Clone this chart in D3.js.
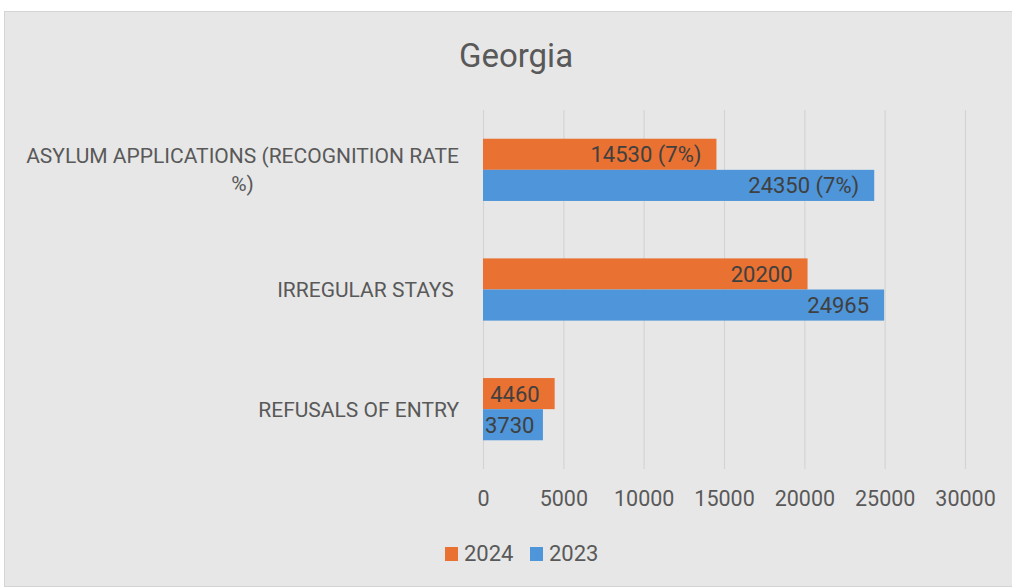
<!DOCTYPE html>
<html>
<head>
<meta charset="utf-8">
<script src="https://cdn.jsdelivr.net/npm/d3@7"></script>
<style>
  html, body { margin: 0; padding: 0; background: #ffffff; }
  svg { display: block; }
  text { font-family: Roboto, "Liberation Sans", sans-serif; fill: #595959; white-space: pre; }
</style>
</head>
<body>
<svg id="chart" width="1012" height="588"></svg>
<script>
// Georgia — migration indicators, 2024 vs 2023
const categories = [
  ["ASYLUM APPLICATIONS (RECOGNITION RATE", "%)"],
  ["IRREGULAR STAYS "],
  ["REFUSALS OF ENTRY"]
];
const seriesNames = ["2024", "2023"];
const values2024 = [14530, 20200, 4460];
const values2023 = [24350, 24965, 3730];
const labels2024 = ["14530 (7%)", "20200", "4460"];
const labels2023 = ["24350 (7%)", "24965", "3730"];
const xTicks = [0, 5000, 10000, 15000, 20000, 25000, 30000];

const colors = { "2024": "#E97132", "2023": "#4E95D9" };

const svg = d3.select("#chart");

// chart area panel
svg.append("rect")
  .attr("x", 4.5).attr("y", 11.5)
  .attr("width", 1020).attr("height", 575)
  .attr("fill", "#e7e7e7")
  .attr("stroke", "#d4d4d4").attr("stroke-width", 1);

// title
svg.append("text")
  .attr("x", 516).attr("y", 67)
  .attr("text-anchor", "middle")
  .style("font-size", "33px")
  .text("Georgia");

const plot = { left: 483, right: 965, top: 110, bottom: 469 };

const x = d3.scaleLinear().domain([0, 30000]).range([plot.left, plot.right]);
const y = d3.scaleBand().domain(d3.range(categories.length))
  .range([plot.top, plot.bottom]).paddingInner(0.48).paddingOuter(0.24);
const ySeries = d3.scaleBand().domain(seriesNames).range([0, y.bandwidth()]);

// vertical gridlines
svg.append("g")
  .selectAll("line")
  .data(xTicks)
  .join("line")
  .attr("x1", d => x(d) + 0.5).attr("x2", d => x(d) + 0.5)
  .attr("y1", plot.top).attr("y2", plot.bottom)
  .attr("stroke", "#d4d4d4").attr("stroke-width", 1.2);

// x axis tick labels
const xAxis = d3.axisBottom(x).tickValues(xTicks).tickSize(0).tickPadding(0)
  .tickFormat(d3.format("d"));
const gx = svg.append("g").attr("transform", `translate(0,${plot.bottom + 37})`).call(xAxis);
gx.select(".domain").remove();
gx.selectAll("text")
  .attr("dy", 0)
  .style("font-size", "21.5px")
  .style("font-family", "Roboto, sans-serif")
  .attr("fill", "#595959");

// category labels (wrapped block right-aligned, lines centred within block)
const catG = svg.append("g");
categories.forEach((lines, i) => {
  const cy = y(i) + y.bandwidth() / 2;
  const lineH = 28;
  const g = catG.append("g");
  const texts = lines.map((ln, k) => g.append("text")
    .attr("y", cy + (k - (lines.length - 1) / 2) * lineH + 7.5)
    .style("font-size", "21px")
    .text(ln));
  const widths = texts.map(t => t.node().getComputedTextLength());
  const blockW = d3.max(widths);
  const right = 459;
  texts.forEach((t, k) => t.attr("x", right - blockW / 2).attr("text-anchor", "middle"));
});

// bars
const rows = [];
categories.forEach((c, i) => {
  rows.push({ i, s: "2024", v: values2024[i], label: labels2024[i] });
  rows.push({ i, s: "2023", v: values2023[i], label: labels2023[i] });
});

const barG = svg.append("g");
barG.selectAll("rect")
  .data(rows)
  .join("rect")
  .attr("x", x(0))
  .attr("y", d => y(d.i) + ySeries(d.s))
  .attr("width", d => x(d.v) - x(0))
  .attr("height", ySeries.bandwidth())
  .attr("fill", d => colors[d.s]);

// value labels, inside end
const lblG = svg.append("g");
rows.forEach(d => {
  const t = lblG.append("text")
    .attr("y", y(d.i) + ySeries(d.s) + ySeries.bandwidth() / 2 + 8)
    .style("font-size", "22px")
    .style("fill", "#404040")
    .text(d.label);
  const w = t.node().getComputedTextLength();
  let end = x(d.v) - 15;
  if (end - w < x(0) + 2) end = x(0) + 2 + w;
  t.attr("x", end).attr("text-anchor", "end");
});

// legend
const legend = svg.append("g");
const legendItems = [
  { s: "2024", sx: 445, tx: 464 },
  { s: "2023", sx: 530, tx: 549 }
];
legendItems.forEach(it => {
  legend.append("rect")
    .attr("x", it.sx).attr("y", 547)
    .attr("width", 13).attr("height", 14)
    .attr("fill", colors[it.s]);
  legend.append("text")
    .attr("x", it.tx).attr("y", 561)
    .style("font-size", "22px")
    .text(it.s);
});
</script>
</body>
</html>
